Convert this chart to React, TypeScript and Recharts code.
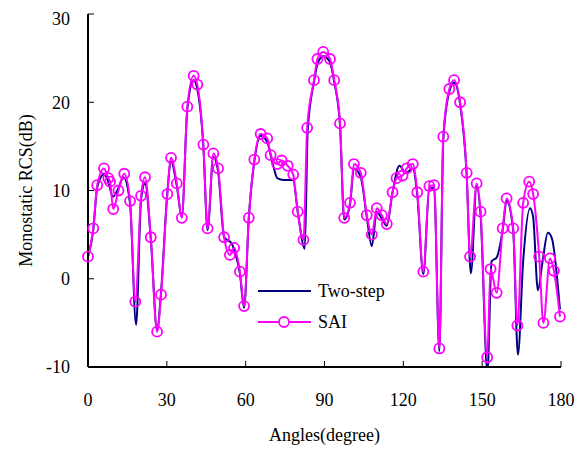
import { LineChart, Line, XAxis, YAxis, Legend } from 'recharts';

// SAI samples (angle in degrees, RCS in dB)
const saiAngles = [
  0, 2.0, 3.5, 6.1, 7.7, 8.4, 9.6, 11.6, 13.8, 16.0, 18.0, 20.2, 21.7, 23.9, 26.3, 27.8,
  30.2, 31.6, 33.8, 35.7, 37.8, 40.2, 41.6, 43.9, 45.5, 47.7, 49.5, 51.8, 54.0, 55.6, 57.8,
  59.4, 61.2, 63.3, 65.7, 68.2, 69.5, 72.0, 73.7, 76.0, 78.1, 79.8, 82.0, 83.4, 86.0, 87.3,
  89.5, 92.1, 93.7, 95.9, 97.5, 99.7, 101.2, 103.8, 106.1, 108.0, 109.9, 111.8, 113.7, 115.9,
  117.4, 119.7, 121.3, 123.6, 125.3, 127.6, 129.9, 131.7, 133.7, 135.2, 137.5, 139.3, 141.6,
  144.1, 145.4, 147.9, 149.4, 151.9, 153.2, 155.5, 157.8, 159.3, 161.8, 163.4, 165.6, 167.9,
  169.4, 171.7, 173.3, 175.8, 177.3, 179.6,
];
const saiRcs = [
  2.5, 5.7, 10.6, 12.5, 11.4, 11.0, 7.9, 10.0, 11.9, 8.8, -2.6, 9.4, 11.5, 4.7, -6.0, -1.8,
  9.6, 13.7, 10.8, 6.9, 19.5, 23.0, 22.0, 15.2, 5.7, 14.2, 12.5, 4.7, 2.7, 3.5, 0.8,
  -3.1, 6.9, 13.5, 16.4, 15.9, 14.0, 13.0, 13.4, 12.8, 11.8, 7.6, 4.4, 17.1, 22.5, 24.9,
  25.7, 24.9, 22.5, 17.6, 6.9, 8.6, 13.0, 12.0, 7.2, 5.0, 8.0, 7.2, 6.2, 9.8,
  11.4, 11.7, 12.5, 13.0, 9.8, 0.8, 10.5, 10.6, -7.9, 16.1, 21.5, 22.5, 20.0,
  12.0, 2.5, 10.8, 7.6, -8.9, 1.1, -1.6, 5.7, 9.1, 5.7, -5.3, 8.6, 11.0,
  9.6, 2.5, -5.0, 2.3, 0.9, -4.3,
];

// Two-step samples
const twoStepAngles = [
  0, 2.0, 3.5, 6.0, 7.5, 9.5, 11.6, 13.5, 16.0, 18.3, 20.2, 21.7, 23.9, 26.3, 27.8,
  30.2, 31.6, 33.8, 35.7, 37.8, 40.2, 41.6, 43.9, 45.5, 47.7, 49.5, 51.8, 54.7, 55.6, 57.8,
  59.4, 61.2, 63.3, 65.7, 68.2, 70.5, 72.0, 74.5, 78.0, 80.0, 82.5, 83.6, 86.0, 87.5,
  89.5, 92.0, 93.7, 95.9, 97.5, 99.7, 101.2, 103.8, 106.1, 108.0, 109.9, 111.8, 113.7, 115.9,
  118.5, 121.0, 123.6, 125.3, 127.6, 129.9, 131.7, 133.7, 135.2, 137.5, 139.3, 141.6,
  144.1, 145.7, 147.9, 149.4, 152.0, 153.6, 155.5, 157.8, 159.3, 161.8, 163.6, 165.6, 168.2,
  169.4, 171.2, 173.0, 175.0, 176.5, 179.6,
];
const twoStepRcs = [
  2.5, 5.5, 10.3, 11.8, 11.2, 9.3, 10.3, 11.5, 8.5, -5.2, 9.0, 10.8, 4.5, -5.8, -1.5,
  9.8, 13.3, 10.5, 7.0, 19.2, 22.5, 21.5, 15.0, 5.5, 13.8, 12.2, 4.7, 4.0, 3.3, 0.6,
  -3.3, 6.9, 13.3, 16.2, 15.5, 12.8, 11.4, 11.2, 11.2, 7.2, 3.4, 16.8, 22.3, 24.5,
  25.2, 24.6, 22.3, 17.4, 6.7, 8.4, 12.5, 11.5, 7.0, 3.7, 7.6, 6.8, 6.0, 9.8,
  12.8, 12.0, 12.5, 9.5, 0.5, 10.2, 10.3, -8.2, 15.8, 21.2, 22.2, 19.8,
  11.8, 0.6, 10.5, 7.2, -10.6, 2.0, 2.4, 5.5, 8.8, 5.5, -8.6, 2.0, 8.0,
  7.0, -1.3, 2.0, 5.2, 4.6, -3.5,
];

const xTicks = [0, 30, 60, 90, 120, 150, 180];
const yTicks = [-10, 0, 10, 20, 30];

const saiData = saiAngles.map((x, i) => ({ x, y: saiRcs[i] }));
const twoStepData = twoStepAngles.map((x, i) => ({ x, y: twoStepRcs[i] }));

const FONT = '"Liberation Serif", "Times New Roman", serif';
const NAVY = '#000080';
const MAGENTA = '#ff00ff';

const renderLegend = () => (
  <svg width={190} height={60} style={{ fontFamily: FONT, display: 'block', overflow: 'visible' }}>
    <line x1={1} y1={10} x2={54} y2={10} stroke={NAVY} strokeWidth={2} />
    <text x={61} y={16} fontSize={18} fill="#000">Two-step</text>
    <line x1={1} y1={41} x2={54} y2={41} stroke={MAGENTA} strokeWidth={2} />
    <circle cx={27} cy={41} r={5} fill="#fff" stroke={MAGENTA} strokeWidth={1.8} />
    <text x={61} y={47} fontSize={18} fill="#000">SAI</text>
  </svg>
);

const tickStyle = { fill: '#000', fontSize: 18, fontFamily: FONT, style: { fontFamily: FONT } };

export default function App() {
  return (
    <div style={{ fontFamily: FONT }}>
      <style>{`.recharts-wrapper text { font-family: ${FONT}; }`}</style>
      <LineChart
        width={580}
        height={441}
        margin={{ top: 6, right: 27, left: 20, bottom: 52 }}
      >
        <XAxis
          dataKey="x"
          type="number"
          domain={[0, 180]}
          ticks={xTicks}
          height={30}
          tickSize={-6}
          tickMargin={32}
          axisLine={{ stroke: '#000', strokeWidth: 2 }}
          tickLine={{ stroke: '#000', strokeWidth: 1 }}
          tick={tickStyle}
          label={{
            value: 'Angles(degree)',
            position: 'bottom',
            offset: 31,
            fill: '#000',
            fontSize: 18,
            fontFamily: FONT,
          }}
        />
        <XAxis
          xAxisId="top"
          orientation="top"
          dataKey="x"
          type="number"
          domain={[0, 180]}
          height={0}
          tick={false}
          tickLine={false}
          axisLine={{ stroke: '#000', strokeWidth: 2 }}
        />
        <YAxis
          type="number"
          domain={[-10, 30]}
          allowDataOverflow
          ticks={yTicks}
          width={60}
          tickSize={-6}
          tickMargin={24}
          axisLine={{ stroke: '#000', strokeWidth: 2 }}
          tickLine={{ stroke: '#000', strokeWidth: 1 }}
          tick={tickStyle}
          label={{
            value: 'Monostatic RCS(dB)',
            angle: -90,
            position: 'insideLeft',
            offset: -2,
            fill: '#000',
            fontSize: 18,
            fontFamily: FONT,
            style: { textAnchor: 'middle' },
          }}
        />
        <YAxis
          yAxisId="right"
          orientation="right"
          domain={[-10, 30]}
          width={0}
          tick={false}
          tickLine={false}
          axisLine={{ stroke: '#000', strokeWidth: 2 }}
        />
        <Legend
          content={renderLegend}
          layout="vertical"
          align="center"
          verticalAlign="middle"
          wrapperStyle={{ left: 249, top: 273, width: 190 }}
        />
        <Line
          data={twoStepData}
          dataKey="y"
          type="monotone"
          stroke={NAVY}
          strokeWidth={2}
          dot={false}
          isAnimationActive={false}
          legendType="line"
        />
        <Line
          data={saiData}
          dataKey="y"
          type="monotone"
          stroke={MAGENTA}
          strokeWidth={2}
          dot={{ r: 5, stroke: MAGENTA, strokeWidth: 1.8, fill: 'none' }}
          isAnimationActive={false}
          legendType="circle"
        />
      </LineChart>
    </div>
  );
}
